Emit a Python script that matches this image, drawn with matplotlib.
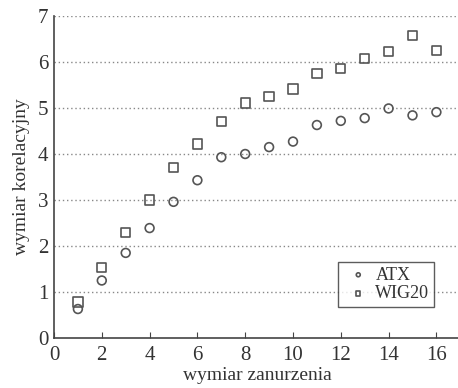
import numpy as np
import matplotlib
matplotlib.use("Agg")
import matplotlib.pyplot as plt

plt.rcParams['font.family'] = ['Liberation Serif', 'DejaVu Serif']

wymiar = np.arange(1, 17)
atx = [0.63, 1.25, 1.85, 2.39, 2.96, 3.43, 3.93, 4.0, 4.15, 4.27,
       4.63, 4.72, 4.78, 4.99, 4.84, 4.91]
wig20 = [0.78, 1.53, 2.29, 3.0, 3.70, 4.22, 4.70, 5.11, 5.25, 5.41,
         5.75, 5.86, 6.07, 6.23, 6.57, 6.25]

fig = plt.figure(figsize=(4.58, 3.88), dpi=100)
ax = fig.add_axes([54 / 458, 50 / 388, 17 * 23.9 / 458, 322 / 388])

ax.scatter(wymiar, atx, marker='o', s=40, facecolors='none',
           edgecolors='#555555', linewidths=1.2, label='ATX', zorder=3)
ax.scatter(wymiar, wig20, marker='s', s=45, facecolors='none',
           edgecolors='#555555', linewidths=1.2, label='WIG20', zorder=3)

ax.set_xlim(0, 17)
ax.set_ylim(0, 7)
ax.set_xticks(range(0, 17, 2))
ax.set_yticks(range(0, 8))
for y in range(1, 8):
    ax.axhline(y, color='#888888', linestyle=(0, (1, 2)), linewidth=1.0, zorder=1)

for s in ['top', 'right']:
    ax.spines[s].set_visible(False)
for s in ['left', 'bottom']:
    ax.spines[s].set_color('#444444')
    ax.spines[s].set_linewidth(1.2)

ax.tick_params(axis='x', direction='in', length=4, colors='#444444',
               labelsize=15, labelcolor='#333333', pad=6)
ax.tick_params(axis='y', length=0, labelsize=15, labelcolor='#333333', pad=4)

ax.set_xlabel('wymiar zanurzenia', fontsize=14, color='#333333', labelpad=1)
ax.set_ylabel('wymiar korelacyjny', fontsize=14, color='#333333', labelpad=6)

leg = ax.legend(loc='upper left', bbox_to_anchor=(0.70, 0.236),
                frameon=True, fancybox=False, fontsize=13,
                markerscale=0.45, handletextpad=0.1, borderpad=0.25,
                labelspacing=0.1, handlelength=1.7, borderaxespad=0)
leg.get_frame().set_edgecolor('#333333')
leg.get_frame().set_linewidth(1.0)
for t in leg.get_texts():
    t.set_color('#333333')

fig.savefig('out.png', dpi=100)
